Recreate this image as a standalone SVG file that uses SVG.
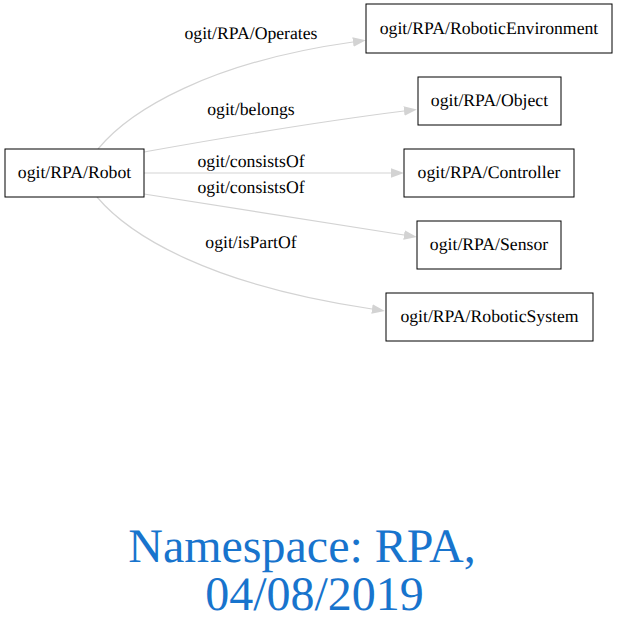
<svg xmlns="http://www.w3.org/2000/svg" width="619" height="636" viewBox="0 0 619 636" text-rendering="geometricPrecision">
<style>
.node rect{fill:#ffffff;stroke:#000000;stroke-width:1}
.node text{font-size:17.7px;fill:#000000;text-anchor:middle}
.edge path{fill:none;stroke:#d3d3d3;stroke-width:1.2}
.lbl{font-size:17.7px;fill:#000000;text-anchor:middle}
.title{font-size:48px;fill:#1874cd;text-anchor:middle}
</style>
<defs>
<marker id="arr" markerUnits="userSpaceOnUse" markerWidth="14" markerHeight="10" refX="0" refY="4.7" orient="auto" viewBox="0 0 14 9.4">
<polygon points="0,0 13,4.7 0,9.4" fill="#d3d3d3"/>
</marker>
</defs>
<rect width="619" height="636" fill="#ffffff"/>
<g id="connectors">
<g class="edge" id="e-operates"><path d="M98,149 C130,110 210,62 353,42" marker-end="url(#arr)"/><text class="lbl" x="251" y="39" font-family="Liberation Serif, serif">ogit/RPA/Operates</text></g>
<g class="edge" id="e-belongs"><path d="M144,152 C200,142 300,124 404,111" marker-end="url(#arr)"/><text class="lbl" x="251" y="115" font-family="Liberation Serif, serif">ogit/belongs</text></g>
<g class="edge" id="e-consists1"><path d="M144,173 L391,173" marker-end="url(#arr)"/><text class="lbl" x="251" y="167" font-family="Liberation Serif, serif">ogit/consistsOf</text></g>
<g class="edge" id="e-consists2"><path d="M144,194 C200,203 300,219 404,235" marker-end="url(#arr)"/><text class="lbl" x="251" y="193" font-family="Liberation Serif, serif">ogit/consistsOf</text></g>
<g class="edge" id="e-ispartof"><path d="M97,197 C130,236 210,285 372,309" marker-end="url(#arr)"/><text class="lbl" x="251" y="248" font-family="Liberation Serif, serif">ogit/isPartOf</text></g>
</g>
<g class="node" id="n-robot"><rect x="5" y="149" width="139" height="48"/><text x="74.5" y="178" font-family="Liberation Serif, serif">ogit/RPA/Robot</text></g>
<g class="node" id="n-roboticenvironment"><rect x="366" y="4" width="246" height="49"/><text x="489" y="33.5" font-family="Liberation Serif, serif">ogit/RPA/RoboticEnvironment</text></g>
<g class="node" id="n-object"><rect x="418" y="77" width="143" height="48"/><text x="489.5" y="106" font-family="Liberation Serif, serif">ogit/RPA/Object</text></g>
<g class="node" id="n-controller"><rect x="404" y="149" width="170" height="48"/><text x="489" y="178" font-family="Liberation Serif, serif">ogit/RPA/Controller</text></g>
<g class="node" id="n-sensor"><rect x="417" y="221" width="144" height="48"/><text x="489" y="250" font-family="Liberation Serif, serif">ogit/RPA/Sensor</text></g>
<g class="node" id="n-roboticsystem"><rect x="386" y="293" width="207" height="48"/><text x="489.5" y="322" font-family="Liberation Serif, serif">ogit/RPA/RoboticSystem</text></g>
<g id="title">
<text class="title" x="302" y="562" font-family="Liberation Serif, serif">Namespace: RPA,</text>
<text class="title" x="314.5" y="610" font-family="Liberation Serif, serif">04/08/2019</text>
</g>
</svg>
